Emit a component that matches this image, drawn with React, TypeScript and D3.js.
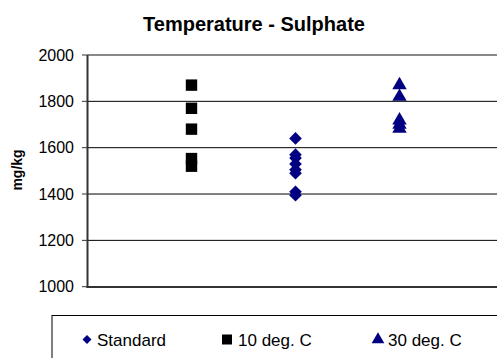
import React from "react";
import * as d3 from "d3";

const seriesNames = ["Standard", "10 deg. C", "30 deg. C"];
const seriesX = [2, 1, 3];
const standardValues = [1640, 1570, 1555, 1530, 1505, 1490, 1410, 1395];
const tenDegValues = [1870, 1770, 1680, 1553, 1520];
const thirtyDegValues = [1870, 1820, 1718, 1700, 1682];
const yTicks = [1000, 1200, 1400, 1600, 1800, 2000];
const colors = ["#000080", "#000000", "#000080"];

const W = 497;
const H = 358;

export default function App() {
  const x = d3.scaleLinear().domain([0, 4]).range([87.5, 503.5]);
  const y = d3.scaleLinear().domain([1000, 2000]).range([286.7, 55]);
  const diamond = d3.symbol().type(d3.symbolSquare).size(80)();
  const square = d3.symbol().type(d3.symbolSquare).size(130)();
  const triangle = d3.symbol().type(d3.symbolTriangle).size(90)();
  const shapes = [diamond, square, triangle];
  const rot = [45, 0, 0];
  const allValues = [standardValues, tenDegValues, thirtyDegValues];
  const font = "Arial, 'Liberation Sans', sans-serif";

  return (
    <svg width={W} height={H} style={{ position: "absolute", left: 0, top: 0, background: "#fff" }} fontFamily={font}>
      <rect x={0} y={0} width={W} height={H} fill="#fff" />
      <text x={254} y={31} textAnchor="middle" fontWeight="bold" fontSize={20}>
        Temperature - Sulphate
      </text>
      {yTicks.map((t) => (
        <g key={t}>
          {t > 1000 && (
            <line x1={88} x2={W} y1={y(t)} y2={y(t)} stroke={t === 2000 ? "#888" : "#000"} strokeWidth={t === 2000 ? 2 : 1} />
          )}
          <line x1={82} x2={88} y1={y(t)} y2={y(t)} stroke="#333" strokeWidth={1} />
          <text x={74} y={y(t)} dy="0.36em" textAnchor="end" fontSize={16}>
            {t}
          </text>
        </g>
      ))}
      <line x1={87.5} x2={87.5} y1={55} y2={288} stroke="#333" strokeWidth={2} />
      <line x1={86.5} x2={W} y1={287} y2={287} stroke="#333" strokeWidth={2} />
      <text transform={`translate(22,170) rotate(-90)`} textAnchor="middle" fontWeight="bold" fontSize={14}>
        mg/kg
      </text>
      {allValues.map((vals, si) =>
        vals.map((v, i) => (
          <path
            key={`${si}-${i}`}
            d={shapes[si]}
            transform={`translate(${x(seriesX[si])},${y(v)}) rotate(${rot[si]})`}
            fill={colors[si]}
          />
        ))
      )}
      <rect x={52} y={315.5} width={460} height={60} fill="#fff" stroke="#000" strokeWidth={1} />
      {[
        { mx: 87, tx: 97 },
        { mx: 227, tx: 238 },
        { mx: 378, tx: 388 },
      ].map((p, i) => (
        <g key={i}>
          <path
            d={i === 0 ? d3.symbol().type(d3.symbolSquare).size(40)() : i === 1 ? d3.symbol().type(d3.symbolSquare).size(100)() : d3.symbol().type(d3.symbolTriangle).size(70)()}
            transform={`translate(${p.mx},${339.5}) rotate(${rot[i]})`}
            fill={colors[i]}
          />
          <text x={p.tx} y={345.5} fontSize={17}>
            {seriesNames[i]}
          </text>
        </g>
      ))}
    </svg>
  );
}
